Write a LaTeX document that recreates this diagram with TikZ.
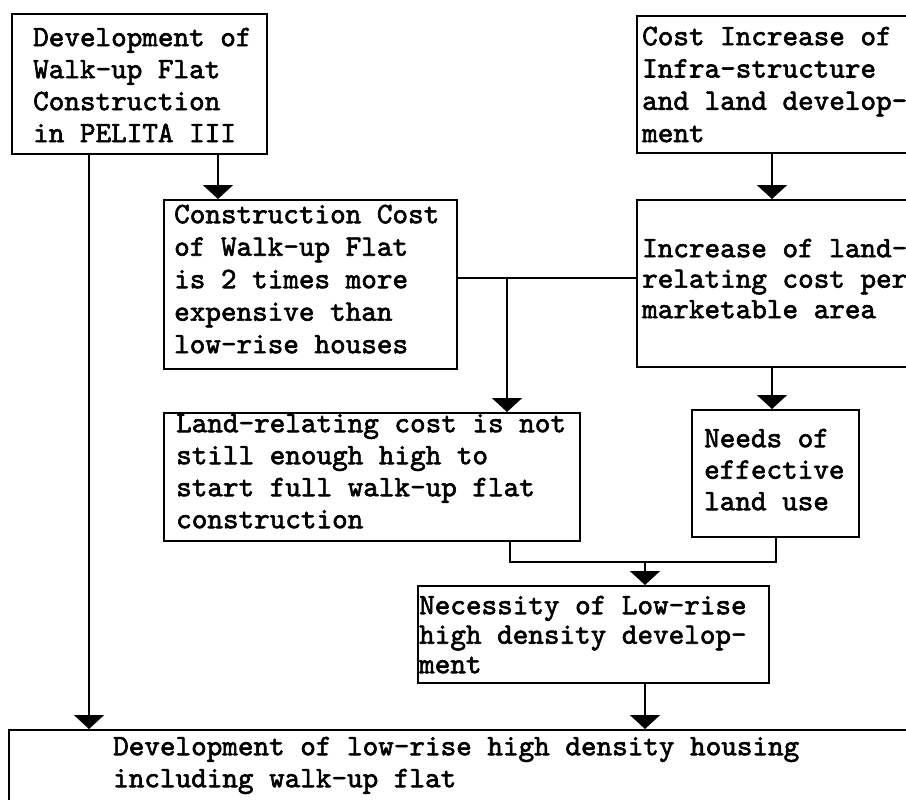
\documentclass[tikz,border=0pt]{standalone}
\usepackage{fontspec}
\usetikzlibrary{arrows.meta}
% typewriter face for all box texts
\newfontfamily\tw{lmmono10-regular}[Extension=.otf, FakeBold=2]
\begin{document}
\begin{tikzpicture}[x=1pt,y=-1pt,
  box/.style={draw, line width=2pt, rectangle, anchor=north west, inner sep=0pt},
  txt/.style={anchor=north west, inner sep=0pt, align=left,
    font=\tw\fontsize{29.7}{#1}\selectfont},
  arr/.style={line width=2pt, -{Triangle[width=30pt,length=14pt]}},
  wire/.style={line width=2pt}]
\useasboundingbox (0,0) rectangle (906,800);
\fill[white] (0,0) rectangle (906,800);
\clip (0,0) rectangle (906,800);

% boxes
\node[box, minimum width=255pt, minimum height=140pt] (A) at (11,13) {};
\node[box, minimum width=293pt, minimum height=169pt] (B) at (163,199) {};
\node[box, minimum width=300pt, minimum height=137pt] (C) at (636,15) {};
\node[box, minimum width=300pt, minimum height=167pt] (C2) at (636,199) {};
\node[box, minimum width=416pt, minimum height=128pt] (D) at (163,412) {};
\node[box, minimum width=167pt, minimum height=127pt] (E) at (691,409) {};
\node[box, minimum width=351pt, minimum height=97pt] (F) at (417,585) {};
\node[box, minimum width=920pt, minimum height=100pt] (G) at (8,729) {};

% texts (first baseline sits 0.7 leading below the node top)
\node[txt=32] (tA) at (33,{46-0.7*32}) {\strut Development of\\Walk-up Flat\\Construction\\in PELITA III};
\node[txt=32.5] (tB) at (174,{223-0.7*32.5}) {\strut Construction Cost\\of Walk-up Flat\\is 2 times more\\expensive than\\low-rise houses};
\node[txt=32.3] (tC) at (642,{45-0.7*32.3}) {\strut Cost Increase of\\Infra-structure\\and land develop-\\ment};
\node[txt=30.5] (tC2) at (642,{257-0.7*30.5}) {\strut Increase of land-\\relating cost per\\marketable area};
\node[txt=32] (tD) at (176,{432-0.7*32}) {\strut Land-relating cost is not\\still enough high to\\start full walk-up flat\\construction};
\node[txt=31.5] (tE) at (704,{447-0.7*31.5}) {\strut Needs of\\effective\\land use};
\node[txt=29.5] (tF) at (419,{614-0.7*29.5}) {\strut Necessity of Low-rise\\high density develop-\\ment};
\node[txt=32] (tG) at (113,{755-0.7*32}) {\strut Development of low-rise high density housing\\including walk-up flat};

% connector positions
\coordinate (xa) at (89,0);
\coordinate (xb) at (218,0);
\coordinate (xc) at (772,0);
\coordinate (xj) at (507,0);
\coordinate (xd) at (510,0);
\coordinate (xm) at (645,0);
\coordinate (yb) at (0,278);
\coordinate (ym) at (0,562);
\coordinate (jn) at (xj |- yb);
\coordinate (mg) at (xm |- ym);

% connectors
\draw[arr] (A.south -| xa) -- (G.north -| xa);
\draw[arr] (A.south -| xb) -- (B.north -| xb);
\draw[arr] (C.south -| xc) -- (C2.north -| xc);
\draw[wire] (B.east |- yb) -- (C2.west |- yb);
\draw[arr] (jn) -- (D.north -| jn);
\draw[arr] (C2.south -| xc) -- (E.north -| xc);
\draw[wire] (D.south -| xd) |- (mg) -| (E.south);
\draw[arr] (mg) -- (F.north -| mg);
\draw[arr] (F.south -| xm) -- (G.north -| xm);
\end{tikzpicture}
\end{document}
